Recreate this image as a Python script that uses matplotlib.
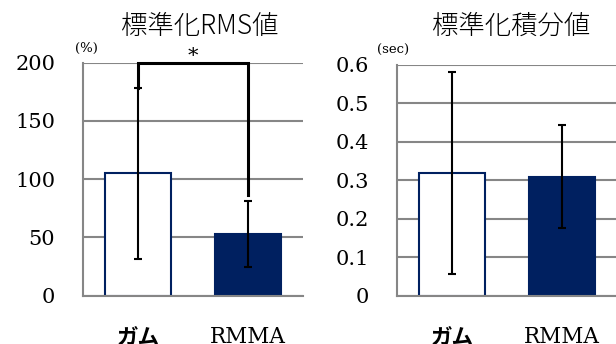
import matplotlib
matplotlib.use("Agg")
import matplotlib.pyplot as plt

# data
categories = ["ガム", "RMMA"]
rms_mean = [105, 53]
rms_sd = [73.5, 28.5]
integ_mean = [0.32, 0.31]
integ_sd = [0.263, 0.135]
rms_ticks = [0, 50, 100, 150, 200]
rms_tick_labels = ["0", "50", "100", "150", "200"]
integ_ticks = [0, 0.1, 0.2, 0.3, 0.4, 0.5, 0.6]
integ_tick_labels = ["0", "0.1", "0.2", "0.3", "0.4", "0.5", "0.6"]

NAVY = "#002060"
GRID = "#868686"
SERIF = ["DejaVu Serif", "Noto Sans CJK JP"]
CJK = ["Noto Sans CJK JP", "DejaVu Sans"]

plt.rcParams["font.family"] = SERIF

W, H = 616, 344
fig = plt.figure(figsize=(W / 100, H / 100), dpi=100)


def px_rect(left, top, right, bottom):
    return [left / W, 1 - bottom / H, (right - left) / W, (bottom - top) / H]


def draw_panel(ax, means, sds, ticks, tick_labels, ymax):
    x = [0, 1]
    ax.set_ylim(0, ymax)
    ax.set_xlim(-0.5, 1.5)
    ax.yaxis.grid(True, color=GRID, lw=1.5, zorder=0)
    ax.set_axisbelow(True)
    for s in ["top", "right"]:
        ax.spines[s].set_visible(False)
    for s in ["left", "bottom"]:
        ax.spines[s].set_color(GRID)
        ax.spines[s].set_linewidth(1.5)
    ax.tick_params(axis="y", length=0, pad=20, labelsize=15)
    ax.tick_params(axis="x", length=0, pad=22, labelsize=15.5)
    ax.bar(x, means, width=0.6, color=["white", NAVY],
           edgecolor=NAVY, linewidth=1.5, zorder=2)
    ax.errorbar(x, means, yerr=sds, fmt="none", ecolor="black",
                elinewidth=1.5, capsize=3, capthick=1.5, zorder=3)
    ax.set_yticks(ticks, labels=tick_labels)
    ax.set_xticks(x, labels=categories)
    labs = ax.get_xticklabels()
    labs[0].set_fontfamily(CJK)
    labs[0].set_fontweight("bold")


ax1 = fig.add_axes(px_rect(83, 62.5, 303, 295.7))
draw_panel(ax1, rms_mean, rms_sd, rms_ticks, rms_tick_labels, 200)

ax2 = fig.add_axes(px_rect(397, 65, 617, 295.7))
draw_panel(ax2, integ_mean, integ_sd, integ_ticks, integ_tick_labels, 0.6)

# significance bracket between the two RMS bars
top = 200
left_end = rms_mean[0] + rms_sd[0]
right_end = rms_mean[1] + rms_sd[1] + 5
ax1.plot([0, 0, 1, 1], [left_end, top, top, right_end], color="black",
         lw=2.2, clip_on=False, zorder=4, solid_joinstyle="miter")
ax1.text(0.5, 205, "*", ha="center", va="center", fontsize=15,
         clip_on=False)

# titles and unit labels
fig.text(200 / W, 1 - 26 / H, "標準化RMS値", ha="center", va="center",
         fontsize=19, fontfamily=CJK, fontweight="light")
fig.text(511 / W, 1 - 26 / H, "標準化積分値", ha="center", va="center",
         fontsize=19, fontfamily=CJK, fontweight="light")
fig.text(75 / W, 1 - 48 / H, "(%)", ha="left", va="center", fontsize=9.5)
fig.text(377 / W, 1 - 50 / H, "(sec)", ha="left", va="center", fontsize=9.5)

fig.savefig("out.png", dpi=100)
